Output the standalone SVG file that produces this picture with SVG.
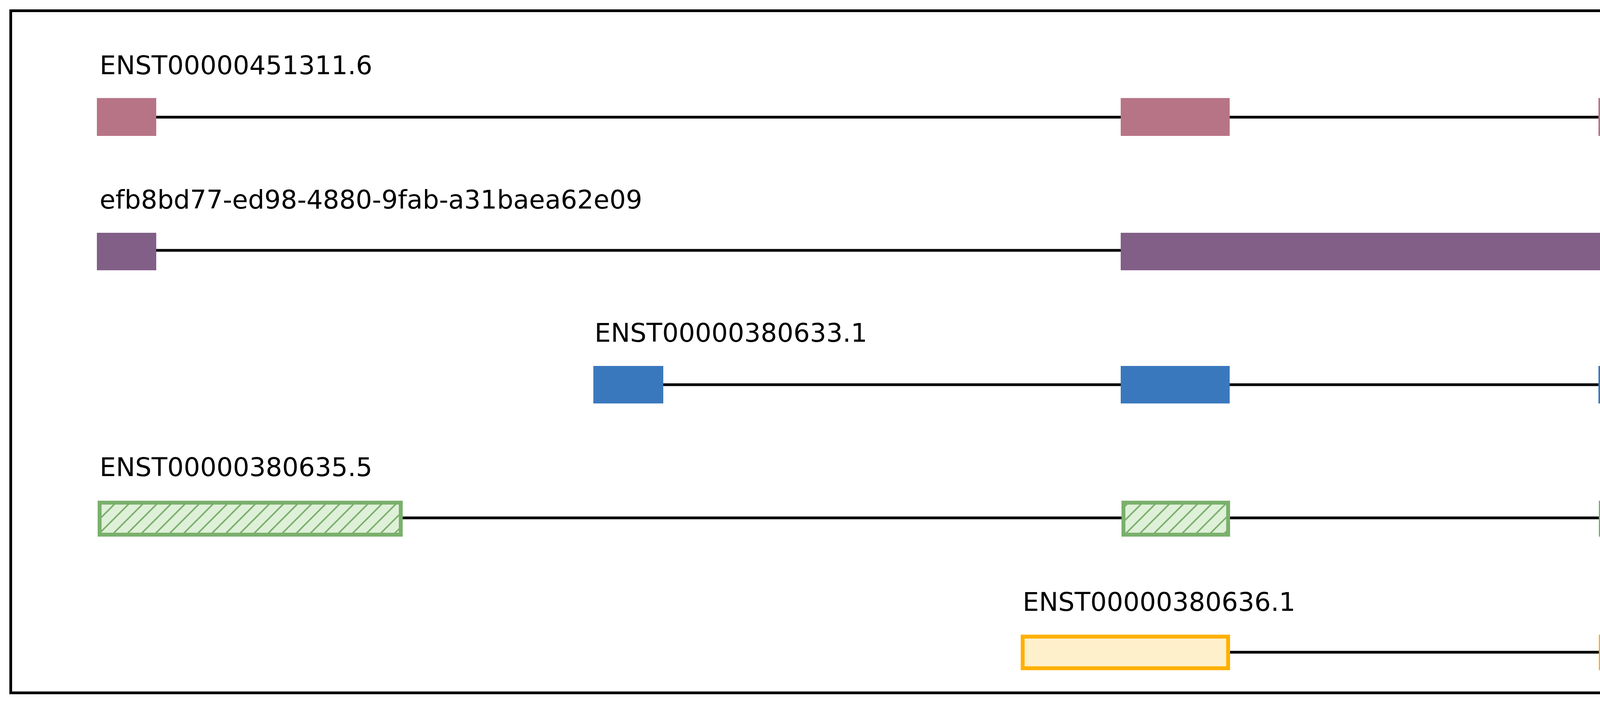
<svg xmlns="http://www.w3.org/2000/svg" width="5400" height="1800" viewBox="0 0 5400 1800">
<style>
text{font-family:"DejaVu Sans",sans-serif;font-size:66px;fill:#000}
.ln{stroke:#000;stroke-width:7}
.p{fill:#b87487}.v{fill:#825f87}.b{fill:#3a78bd}
.g{fill:url(#hatch);stroke:#7ab06c;stroke-width:10}
.y{fill:#fff0cc;stroke:#ffb000;stroke-width:10}
</style>
<defs>
<pattern id="hatch" patternUnits="userSpaceOnUse" width="36" height="36">
<rect width="36" height="36" fill="#dff0d8"/>
<path d="M-9,9 L9,-9 M0,36 L36,0 M27,45 L45,27" stroke="#7ab06c" stroke-width="4"/>
</pattern>
</defs>
<rect x="27.5" y="27.5" width="5345.5" height="1746.5" fill="#fff" stroke="#000" stroke-width="7"/>
<g id="connectors">
<line class="ln" x1="400" y1="300" x2="2869" y2="300"/>
<line class="ln" x1="3148" y1="300" x2="4092" y2="300"/>
<line class="ln" x1="400" y1="641" x2="2869" y2="641"/>
<line class="ln" x1="1698" y1="985" x2="2869" y2="985"/>
<line class="ln" x1="3148" y1="985" x2="4092" y2="985"/>
<line class="ln" x1="1026" y1="1326" x2="2876" y2="1326"/>
<line class="ln" x1="3144" y1="1326" x2="4098" y2="1326"/>
<line class="ln" x1="3144" y1="1670" x2="4098" y2="1670"/>
</g>
<g id="t1">
<text x="255" y="190">ENST00000451311.6</text>
<rect class="p" x="248" y="251" width="152" height="97"/>
<rect class="p" x="2869" y="251" width="279" height="97"/>
<rect class="p" x="4092" y="251" width="289" height="97"/>
</g>
<g id="t2">
<text x="255" y="534">efb8bd77-ed98-4880-9fab-a31baea62e09</text>
<rect class="v" x="248" y="596" width="152" height="96"/>
<rect class="v" x="2869" y="596" width="2273" height="96"/>
</g>
<g id="t3">
<text x="1522" y="875">ENST00000380633.1</text>
<rect class="b" x="1519" y="937" width="179" height="96"/>
<rect class="b" x="2869" y="937" width="279" height="96"/>
<rect class="b" x="4092" y="937" width="1050" height="96"/>
</g>
<g id="t4">
<text x="255" y="1219">ENST00000380635.5</text>
<rect class="g" x="255" y="1287" width="771" height="82"/>
<rect class="g" x="2876" y="1287" width="268" height="82"/>
<rect class="g" x="4098" y="1287" width="1041" height="82"/>
</g>
<g id="t5">
<text x="2618" y="1564">ENST00000380636.1</text>
<rect class="y" x="2618" y="1630" width="526" height="81"/>
<rect class="y" x="4098" y="1630" width="706" height="81"/>
</g>
</svg>
